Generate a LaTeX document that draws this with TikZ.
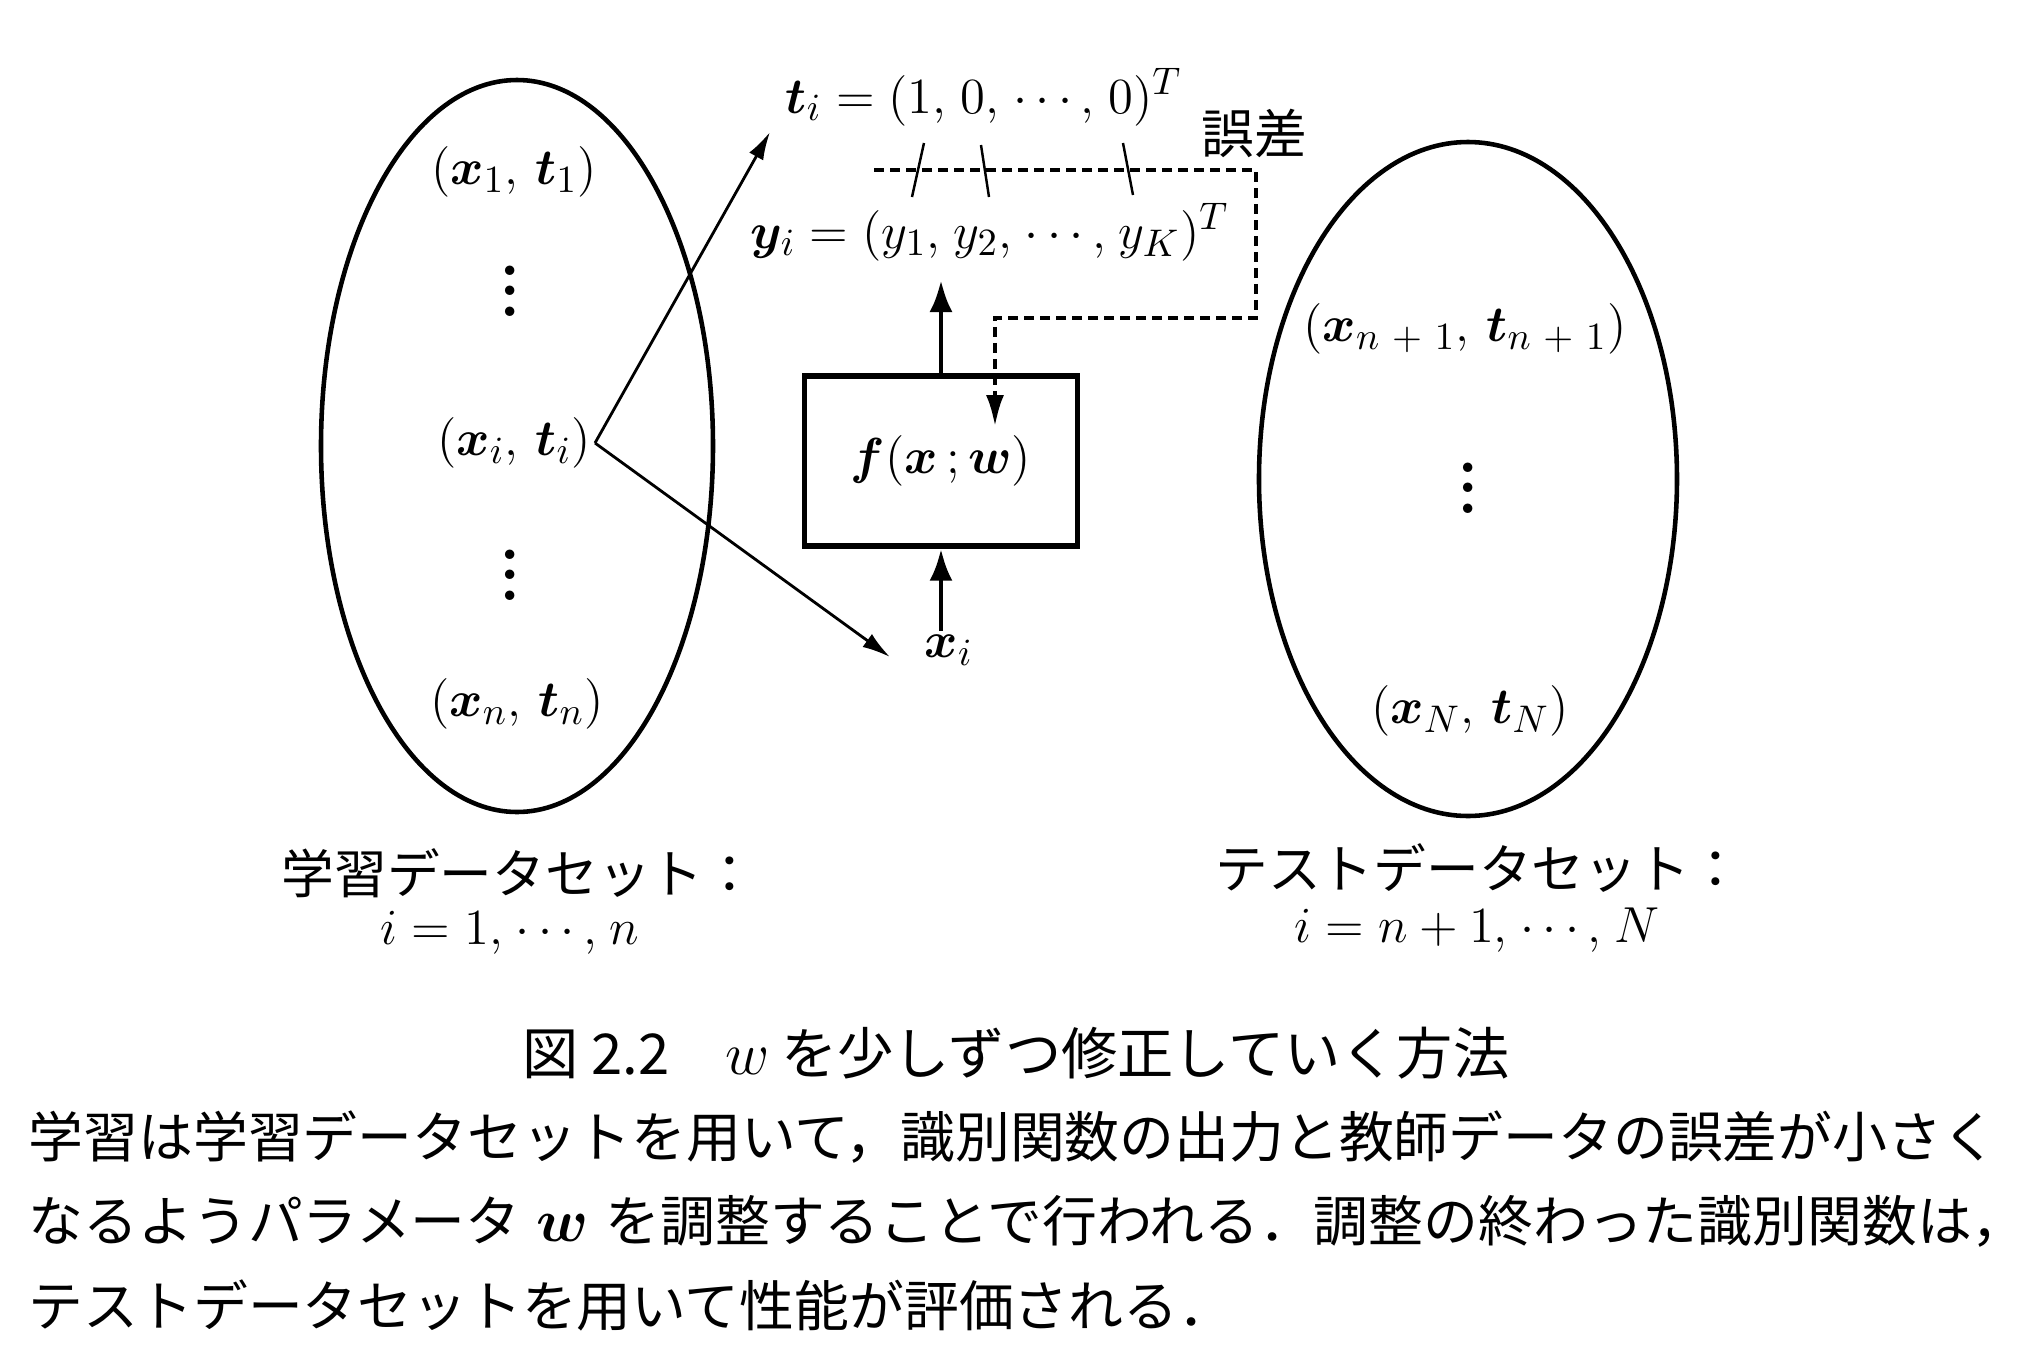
\documentclass[tikz,border=0pt]{standalone}
\usepackage{bm}
\usepackage{fontspec}
\newfontfamily\jp{Noto Sans CJK JP}
\usetikzlibrary{arrows.meta}
\newcommand{\vdotsbig}{\vbox{\baselineskip5.8pt\lineskiplimit0pt\hbox{$\bm{.}$}\hbox{$\bm{.}$}\hbox{$\bm{.}$}}}

\begin{document}
\begin{tikzpicture}[x=0.1mm,y=-0.1mm,
    every node/.style={inner sep=1pt,font=\fontsize{15.5}{18}\selectfont},
    jtext/.style={font=\fontsize{15}{18}\selectfont\jp},
    btext/.style={font=\fontsize{15.6}{18}\selectfont\jp,anchor=west,inner sep=0pt},
    dots/.style={font=\fontsize{17}{20}\selectfont},
    bigarr/.style={line width=1.4pt,-{Latex[length=3.2mm,width=2.3mm]}},
    thinarr/.style={line width=0.8pt,-{Latex[length=2.8mm,width=1.6mm]}},
    dsh/.style={line width=1.3pt,dash pattern=on 1mm off 0.6mm,-{Latex[length=3.2mm,width=1.8mm]}}]
    \useasboundingbox (0,0) rectangle (2026,1372);

    \draw[line width=1.3pt] (517,446) ellipse [x radius=196, y radius=366];
    \draw[line width=1.3pt] (1468,479) ellipse [x radius=209, y radius=337];

    \node (p1) at (514,172) {$(\bm{x}_1,\,\bm{t}_1)$};
    \node[dots] (d1) at (510,291) {\vdotsbig};
    \node (pi) at (514,443) {$(\bm{x}_i,\,\bm{t}_i)$};
    \node[dots] (d2) at (510,575) {\vdotsbig};
    \node (pn) at (517,704) {$(\bm{x}_n,\,\bm{t}_n)$};
    \node[jtext] (lbl1) at (519,873) {学習データセット：};
    \node (rng1) at (510,933) {$i = 1,\mkern1.5mu \cdots,\mkern1.5mu n$};

    \node (q1) at (1465,329) {$(\bm{x}_{n\mkern6mu+\mkern6mu1},\,\bm{t}_{n\mkern6mu+\mkern6mu1})$};
    \node[dots] (d3) at (1468,488) {\vdotsbig};
    \node (qn) at (1470,711) {$(\bm{x}_N,\,\bm{t}_N)$};
    \node[jtext] (lbl2) at (1479,868) {テストデータセット：};
    \node (rng2) at (1477,930) {$i = n + 1,\mkern1.5mu \cdots,\mkern1.5mu N$};

    \node (ti) at (984,97) {$\bm{t}_i = (1,\mkern2mu 0,\mkern2mu \cdots,\mkern2mu 0)^T$};
    \node[jtext] (err) at (1254,133) {誤差};
    \node (yi) at (990,232) {$\bm{y}_i = (y_1,\mkern1.5mu y_2,\mkern1.5mu \cdots,\mkern1.5mu y_K)^T$};
    \node[draw,line width=1.5pt,minimum width=27.3mm,minimum height=17mm] (fbox) at (941,461) {$\bm{f}(\bm{x}\,;\bm{w})$};
    \node (xin) at (949,650) {$\bm{x}_i$};

    \coordinate (ttip) at (770,132);
    \coordinate (xtip) at (890,657);
    \coordinate (ytip) at (941,280);
    \coordinate (es) at (874,170);
    \coordinate (ee) at (995,427);

    \draw[thinarr] (pi.east) -- (ttip);
    \draw[thinarr] (pi.east) -- (xtip);
    \draw[bigarr] (fbox.north) -- (ytip);
    \draw[bigarr] (xin.north -| fbox.south) -- (fbox.south);
    \draw[dsh] (es) -| (1256,318) -| (ee);
    \foreach \a/\b/\c/\d in {912/197/924/143, 981/145/989/197, 1123/143/1133/195}
        \draw[line width=0.7pt] (\a,\b) -- (\c,\d);

    \node[font=\fontsize{16}{19}\selectfont\jp] (cap) at (1016,1053) {図 2.2\hspace{1em}$w$\hspace{0.2em}を少しずつ修正していく方法};
    \node[btext] (txt1) at (28,1137) {学習は学習データセットを用いて，識別関数の出力と教師データの誤差が小さく};
    \node[btext] (txt2) at (28,1221) {なるようパラメータ\hspace{0.3em}{\fontsize{18}{20}\selectfont$\bm{w}$}\hspace{0.3em}を調整することで行われる．調整の終わった識別関数は，};
    \node[btext] (txt3) at (28,1305) {テストデータセットを用いて性能が評価される．};
\end{tikzpicture}
\end{document}
